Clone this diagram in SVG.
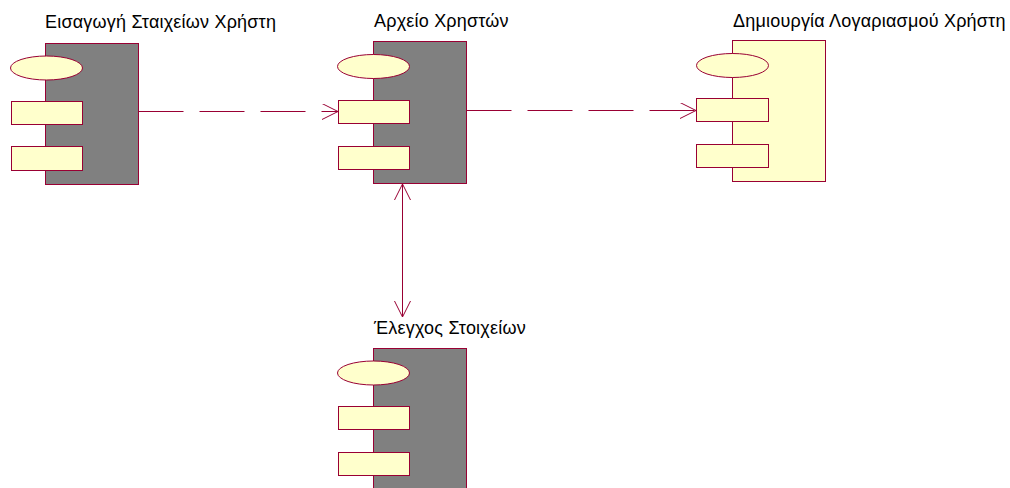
<svg xmlns="http://www.w3.org/2000/svg" width="1010" height="488" viewBox="0 0 1010 488">
<defs>
<style>
.body{fill:#808080;stroke:#990033;stroke-width:1}
.body2{fill:#ffffcc;stroke:#990033;stroke-width:1}
.part{fill:#ffffcc;stroke:#990033;stroke-width:1}
.lbl{font-family:"Liberation Sans",Arial,sans-serif;font-size:18px;letter-spacing:0.2px;fill:#000}
.conn{fill:none;stroke:#990033;stroke-width:1}
.dash{stroke-dasharray:45 16}
</style>
<marker id="open" markerWidth="18" markerHeight="18" refX="16" refY="8" orient="auto" markerUnits="userSpaceOnUse">
<path d="M0,0 L16,8 L0,16" fill="none" stroke="#990033" stroke-width="1"/>
</marker>
<marker id="openStart" markerWidth="18" markerHeight="18" refX="0" refY="8" orient="auto" markerUnits="userSpaceOnUse">
<path d="M16,0 L0,8 L16,16" fill="none" stroke="#990033" stroke-width="1"/>
</marker>
</defs>
<rect width="1010" height="488" fill="#fff"/>
<g id="connectors">
<line class="conn dash" x1="138.5" y1="111.5" x2="338" y2="111.5" marker-end="url(#open)"/>
<line class="conn dash" x1="466.5" y1="110.5" x2="696" y2="110.5" marker-end="url(#open)"/>
<line class="conn" x1="402.5" y1="184" x2="402.5" y2="317" marker-start="url(#openStart)" marker-end="url(#open)"/>
</g>
<g id="node-eisagogi">
<text class="lbl" x="45" y="28">Εισαγωγή Σταιχείων Χρήστη</text>
<rect class="body" x="45.5" y="43.5" width="93" height="141"/>
<ellipse class="part" cx="46.5" cy="68" rx="36" ry="12"/>
<rect class="part" x="11.5" y="101.5" width="71" height="23"/>
<rect class="part" x="11.5" y="146.5" width="71" height="24"/>
</g>
<g id="node-arxeio">
<text class="lbl" x="374" y="27">Αρχείο Χρηστών</text>
<rect class="body" x="373.5" y="41.5" width="93" height="142"/>
<ellipse class="part" cx="373.5" cy="66.5" rx="36" ry="12"/>
<rect class="part" x="338.5" y="100.5" width="71" height="23"/>
<rect class="part" x="338.5" y="146.5" width="71" height="23"/>
</g>
<g id="node-dimiourgia">
<text class="lbl" x="733" y="27">Δημιουργία Λογαριασμού Χρήστη</text>
<rect class="body2" x="732.5" y="40.5" width="93" height="141"/>
<ellipse class="part" cx="732.5" cy="65.5" rx="36" ry="12"/>
<rect class="part" x="696.5" y="98.5" width="72" height="23"/>
<rect class="part" x="696.5" y="144.5" width="72" height="23"/>
</g>
<g id="node-elegxos">
<text class="lbl" x="374" y="334">Έλεγχος Στοιχείων</text>
<rect class="body" x="373.5" y="348.5" width="93" height="145"/>
<ellipse class="part" cx="373.5" cy="373" rx="36" ry="12"/>
<rect class="part" x="338.5" y="406.5" width="71" height="23"/>
<rect class="part" x="338.5" y="452.5" width="71" height="23"/>
</g>
</svg>
